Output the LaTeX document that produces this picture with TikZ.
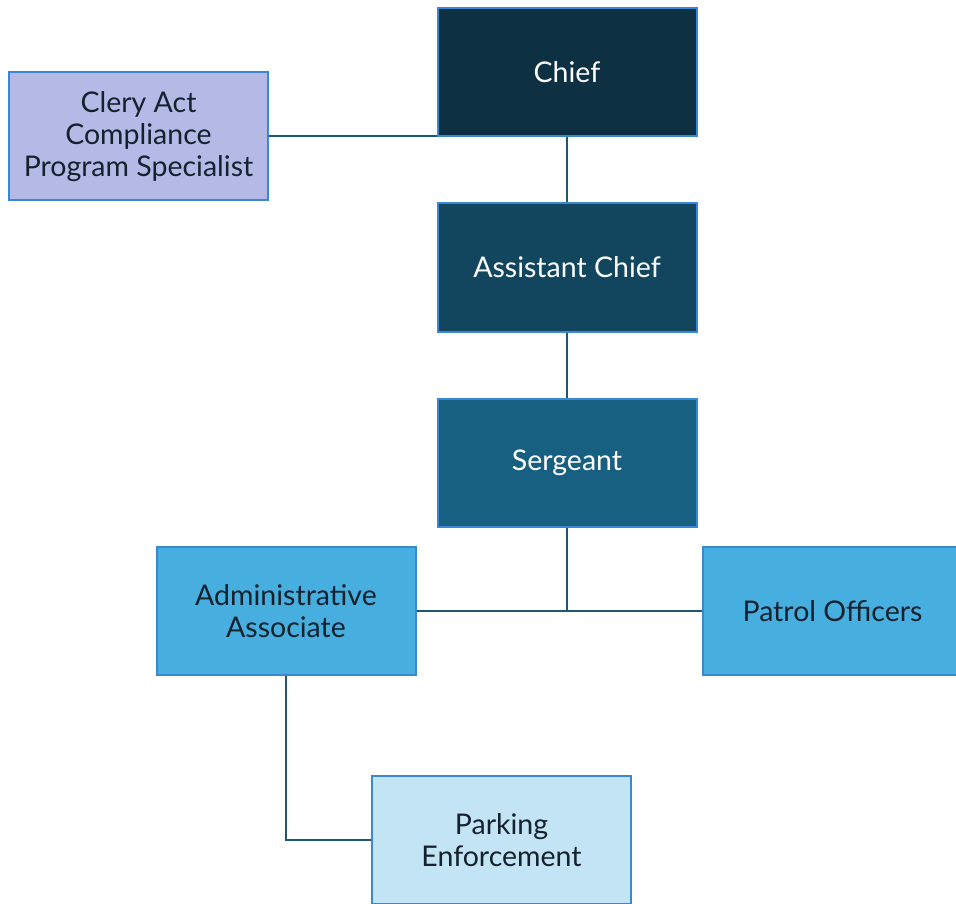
\documentclass[tikz,border=0pt]{standalone}
\usepackage{fontspec}
\setmainfont{Lato}
\usetikzlibrary{positioning}
\definecolor{navyA}{HTML}{0E3043}
\definecolor{navyB}{HTML}{12465F}
\definecolor{navyC}{HTML}{186082}
\definecolor{skyA}{HTML}{46AFDF}
\definecolor{skyB}{HTML}{C2E4F4}
\definecolor{lilac}{HTML}{B4B9E6}
\definecolor{rim}{HTML}{3A87D5}
\definecolor{wire}{HTML}{1E5870}
\definecolor{ink}{HTML}{15222E}
\tikzset{
  unita/.style  = {rectangle, draw=rim, line width=2pt, minimum width=259pt, minimum height=128pt, align=center, font=\fontsize{28.5}{32}\selectfont, inner sep=2pt},
  scuro/.style  = {unita, text=white},
  chiaro/.style = {unita, text=ink},
  link/.style   = {draw=wire, line width=2pt}
}

\begin{document}
\begin{tikzpicture}[x=1pt, y=-1pt]

  \clip (0,0) rectangle (956,904);
  \useasboundingbox (0,0) rectangle (956,904);

  % ---------- vertice ----------
  \node[scuro, fill=navyA]  (chief) at (567,72)    {Chief};
  \node[chiaro, fill=lilac] (clery) at (138.5,136.5) {Clery Act\\Compliance\\Program Specialist};
  \node[scuro, fill=navyB]  (ass)   at (567,267.5) {Assistant Chief};
  \node[scuro, fill=navyC]  (serg)  at (567,462.5) {Sergeant};

  % ---------- livello operativo ----------
  \node[chiaro, fill=skyA] (adm)  at (286,611)   {Administrative\\Associate};
  \node[chiaro, fill=skyA] (pat)  at (832.5,611) {Patrol Officers};
  \node[chiaro, fill=skyB] (park) at (501.5,840) {Parking\\Enforcement};

  % ---------- collegamenti ----------
  \draw[link] (clery.east) -- (clery.east -| chief.south west);
  \draw[link] (chief.south) -- (ass.north);
  \draw[link] (ass.south) -- (serg.north);
  \coordinate (nodo) at (serg.south |- adm.east);
  \draw[link] (serg.south) -- (nodo);
  \draw[link] (adm.east) -- (pat.west);
  \draw[link] (adm.south) |- (park.west);

\end{tikzpicture}
\end{document}
